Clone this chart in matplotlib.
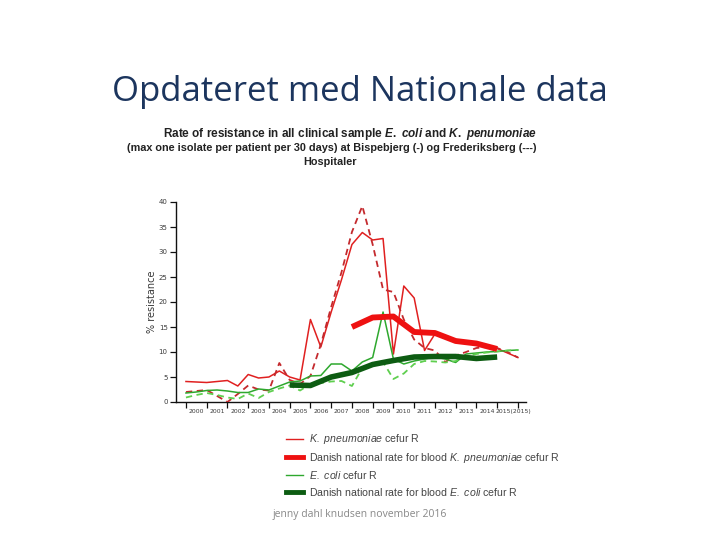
import matplotlib
matplotlib.use("Agg")
import matplotlib.pyplot as plt
from matplotlib.lines import Line2D

plt.rcParams['mathtext.fontset'] = 'custom'
plt.rcParams['mathtext.rm'] = 'Liberation Sans:bold'
plt.rcParams['mathtext.it'] = 'Liberation Sans:italic:bold'
plt.rcParams['mathtext.sf'] = 'Liberation Sans:italic'

# half-year periods
periods = [2000.0, 2000.5, 2001.0, 2001.5, 2002.0, 2002.5, 2003.0, 2003.5,
           2004.0, 2004.5, 2005.0, 2005.5, 2006.0, 2006.5, 2007.0, 2007.5,
           2008.0, 2008.5, 2009.0, 2009.5, 2010.0, 2010.5, 2011.0, 2011.5,
           2012.0, 2012.5, 2013.0, 2013.5, 2014.0, 2014.5, 2015.0, 2015.5, 2016.0]

kp_bispebjerg = [4.1, 4.0, 3.9, 4.1, 4.3, 3.2, 5.5, 4.8, 5.0, 6.2, 5.0, 4.4,
                 16.5, 11.0, 18.0, 24.5, 31.5, 33.9, 32.4, 32.7, 9.6, 23.2,
                 20.8, 10.3, 13.6, 13.3, 12.5, 12.0, 11.9, 11.3, 10.7, 9.8, 8.9]
kp_frederiksberg = [2.0, 2.2, 2.4, 1.2, 0.0, 1.6, 3.3, 2.5, 2.3, 7.8, 4.4, 3.6,
                    5.2, 11.5, 19.0, 26.0, 34.0, 39.2, 31.5, 22.5, 22.0, 16.5,
                    12.5, 10.8, 10.3, 8.0, 9.3, 10.0, 10.8, 11.0, 10.8, 10.0, 8.9]
ec_bispebjerg = [1.8, 2.0, 2.3, 2.4, 2.2, 1.9, 1.9, 2.6, 2.4, 3.2, 4.0, 4.2,
                 5.2, 5.3, 7.6, 7.6, 6.2, 8.0, 8.9, 18.0, 8.6, 7.6, 8.2, 8.6,
                 9.0, 8.6, 7.9, 9.6, 9.8, 10.0, 10.1, 10.3, 10.4]
ec_frederiksberg = [0.9, 1.4, 1.8, 1.4, 0.9, 0.6, 1.7, 0.8, 2.0, 2.7, 3.3, 2.3,
                    3.6, 3.8, 4.1, 4.2, 3.2, 6.8, 7.8, 8.0, 4.6, 5.7, 7.6, 8.2,
                    8.1, 7.9, 8.2, 9.2, 9.6, 9.9, 10.1, 10.3, 10.4]

nat_ec_years = [2005, 2006, 2007, 2008, 2009, 2010, 2011, 2012, 2013, 2014, 2015]
nat_ec = [3.4, 3.3, 5.0, 5.9, 7.5, 8.3, 9.0, 9.1, 9.1, 8.7, 9.0]
nat_kp_years = [2008, 2009, 2010, 2011, 2012, 2013, 2014, 2015]
nat_kp = [15.0, 16.9, 17.1, 14.0, 13.8, 12.2, 11.7, 10.6]

year_ticks = list(range(2000, 2017))
year_labels = ['2000', '2001', '2002', '2003', '2004', '2005', '2006', '2007',
               '2008', '2009', '2010', '2011', '2012', '2013', '2014', '2015(2015)']
label_pos = [2000.5, 2001.5, 2002.5, 2003.5, 2004.5, 2005.5, 2006.5, 2007.5,
             2008.5, 2009.5, 2010.5, 2011.5, 2012.5, 2013.5, 2014.5, 2015.78]
y_ticks = [0, 5, 10, 15, 20, 25, 30, 35, 40]

legend_labels = [r'$\mathsf{K.\ pneumoniae}$ cefur R',
                 r'Danish national rate for blood $\mathsf{K.\ pneumoniae}$ cefur R',
                 r'$\mathsf{E.\ coli}$ cefur R',
                 r'Danish national rate for blood $\mathsf{E.\ coli}$ cefur R']

RED = '#e02020'
RED_D = '#c42a2e'
GREEN = '#2ea82e'
GREEN_D = '#5fcf4f'
DKGREEN = '#0d5c12'
TXT = '#3a3a3a'

fig = plt.figure(figsize=(7.2, 5.4), dpi=100)
fig.patch.set_facecolor('white')

fig.text(0.5, 1 - 92 / 540, 'Opdateret med Nationale data', ha='center', va='center',
         fontsize=25, color='#1c355e', family='Open Sans')

sub = [(r'Rate of resistance in all clinical sample $\mathit{E.\ coli}$ and $\mathit{K.\ penumoniae}$', 350, 8.5),
       ('(max one isolate per patient per 30 days) at Bispebjerg (-) og Frederiksberg (---)', 332, 7.85),
       ('Hospitaler', 330, 7.85)]
for i, (s, xc, fs) in enumerate(sub):
    fig.text(xc / 720, 1 - (134 + 14 * i) / 540, s, ha='center', va='center',
             fontsize=fs, fontweight='bold', family='Liberation Sans', color='#222222')

ax = fig.add_axes([176 / 720, 1 - 402 / 540, 350 / 720, 200 / 540])
ax.plot(periods, kp_bispebjerg, color=RED, lw=1.1, zorder=3)
ax.plot(periods, kp_frederiksberg, color=RED_D, lw=1.3, ls=(0, (3.5, 2.5)), zorder=3)
ax.plot(periods, ec_bispebjerg, color=GREEN, lw=1.1, zorder=3)
ax.plot(periods, ec_frederiksberg, color=GREEN_D, lw=1.3, ls=(0, (3.5, 2.5)), zorder=3)
ax.plot(nat_kp_years, nat_kp, color='#ee1111', lw=4.2, solid_capstyle='butt', zorder=4)
ax.plot(nat_ec_years, nat_ec, color=DKGREEN, lw=4.0, solid_capstyle='butt', zorder=4)

ax.set_xlim(1999.52, 2016.39)
ax.set_ylim(0, 40)
for s in ['top', 'right']:
    ax.spines[s].set_visible(False)
for s in ['left', 'bottom']:
    ax.spines[s].set_linewidth(1.0)
    ax.spines[s].set_color('#111111')

ax.set_yticks(y_ticks)
ax.set_yticklabels([str(v) for v in y_ticks], fontsize=5, color=TXT)
ax.set_xticks(year_ticks)
ax.set_xticklabels([])
ax.set_xticks(label_pos, minor=True)
ax.set_xticklabels(year_labels, minor=True, fontsize=4.4, color=TXT)
ax.tick_params(axis='x', which='minor', length=0, pad=5)
ax.tick_params(axis='x', which='major', length=4, width=0.9, color='#111111')
ax.tick_params(axis='y', length=4, width=0.9, color='#111111', pad=2)
ax.set_ylabel('% resistance', fontsize=7, color=TXT, labelpad=1)

handles = [Line2D([], [], color=RED, lw=1.0),
           Line2D([], [], color='#ee1111', lw=3.5),
           Line2D([], [], color=GREEN, lw=1.0),
           Line2D([], [], color=DKGREEN, lw=3.5)]
leg = fig.legend(handles, legend_labels, loc='upper left',
                 bbox_to_anchor=(281 / 720, 1 - 427 / 540), frameon=False,
                 fontsize=7.6, handlelength=1.6, handletextpad=0.55,
                 labelspacing=0.42, borderpad=0)
for t in leg.get_texts():
    t.set_color('#444444')
    t.set_family('Liberation Sans')

fig.text(360 / 720, 1 - 515 / 540, 'jenny dahl knudsen november 2016', ha='center',
         va='center', fontsize=7.5, color='#888888', family='Open Sans')

fig.savefig('out.png', dpi=100, facecolor='white')
